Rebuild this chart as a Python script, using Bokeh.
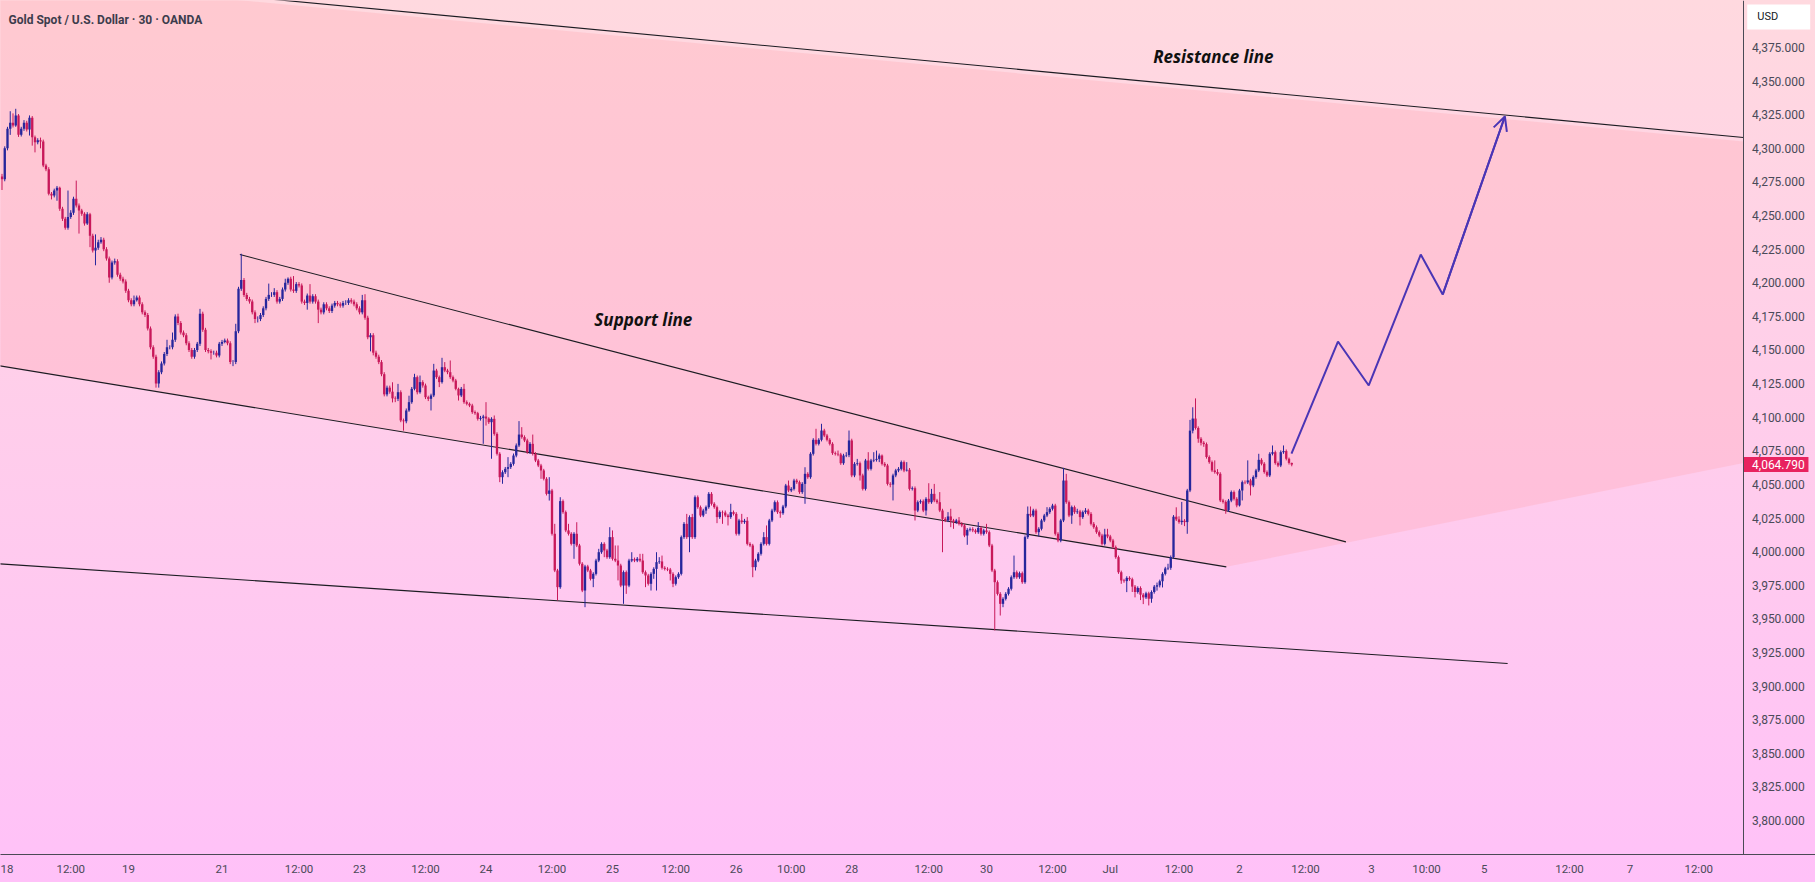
import numpy as np
from bokeh.plotting import figure
from bokeh.core.properties import value
from bokeh.models import (ColumnDataSource, FixedTicker, Label, Arrow, OpenHead,
                          Range1d, Span)
from bokeh.embed import file_html
from bokeh.resources import INLINE

# ---------------------------------------------------------------------------
# XAUUSD, 30-minute bars (bar index on x). Each bar opens at the prior close.
# ---------------------------------------------------------------------------
first_open = 4279.0

closes = [
    4277, 4300, 4314.5, 4319, 4317, 4324.4, 4310.1, 4314.5, 4319, 4314,
    4322.7, 4308.3, 4304.6, 4306, 4305, 4287.2, 4284.5, 4266.2, 4265, 4268.6,
    4270.6, 4255, 4247.6, 4241, 4249, 4252, 4262.5, 4257.5, 4253.8, 4251.3,
    4244, 4251, 4235, 4224, 4226, 4230.2, 4232, 4225, 4218, 4204,
    4215, 4216, 4206, 4203, 4201, 4194, 4187, 4184, 4187, 4189,
    4184, 4178, 4176, 4166, 4152, 4145, 4125, 4133.5, 4140, 4147,
    4152, 4152, 4157.6, 4175, 4170, 4163, 4161, 4155, 4150, 4145,
    4150, 4154.6, 4177, 4165, 4150, 4149, 4148, 4148, 4146, 4154.6,
    4156, 4157, 4155, 4141, 4141, 4164, 4195.5, 4202, 4191, 4188,
    4186, 4178, 4173, 4173, 4176, 4181, 4188, 4191, 4191, 4193,
    4186, 4188, 4195, 4200, 4203, 4195, 4194, 4199, 4198, 4186,
    4185, 4190.5, 4186, 4190, 4186, 4180, 4178, 4184, 4181, 4179,
    4183, 4185, 4184, 4183, 4185, 4185, 4187, 4186, 4184, 4181,
    4178, 4187, 4174, 4159.5, 4161, 4148, 4145, 4141, 4132, 4117,
    4122, 4119, 4114, 4113.7, 4118.6, 4097.6, 4097, 4105, 4111.2, 4121.1,
    4129.8, 4118.6, 4126.1, 4123.6, 4114.9, 4113.7, 4116.2, 4134.7, 4129.8, 4126.1,
    4137.2, 4134.7, 4133.5, 4129.8, 4127.3, 4121.1, 4116.2, 4121.1, 4111.2, 4110,
    4108.7, 4103.8, 4103, 4098.8, 4099.5, 4100.5, 4099, 4096.3, 4098.8, 4087.6,
    4072.8, 4055.4, 4059.1, 4061.6, 4062.9, 4065.3, 4071.5, 4079, 4087.1, 4085.2,
    4082.7, 4074, 4080.2, 4072.8, 4067.8, 4064.1, 4060.4, 4054.2, 4043, 4045.5,
    4013.3, 3986, 3973.6, 4037.6, 4029.4, 4015.8, 4013.3, 4005.8, 4013.3, 4004.6,
    3991, 3971.1, 3989, 3986, 3979.8, 3983.5, 3993.4, 3999.6, 4005.8, 4000.9,
    3995.9, 4010.8, 3994.7, 3993.4, 3989.7, 3974.8, 3984.8, 3974.8, 3993.4, 3994.4,
    3993.4, 3994.7, 3993.4, 3984.7, 3982.3, 3976.1, 3983.5, 3987.2, 3992.2, 3992.7,
    3988, 3987.2, 3986.7, 3983.5, 3976.1, 3981, 3983.5, 4010.8, 4020.7, 4010.8,
    4025.7, 4010.8, 4040.5, 4033.1, 4026.9, 4030.6, 4033.1, 4043, 4035.6, 4033.1,
    4025.7, 4029.4, 4029.1, 4026.9, 4025.7, 4029.4, 4028.1, 4013.3, 4023.2, 4022,
    4023, 4005.8, 4004.6, 3988.5, 3993.4, 3998.4, 4005.8, 4010.8, 4005.8, 4023.2,
    4030.6, 4036.8, 4029.4, 4028.6, 4033.6, 4049.2, 4045.5, 4046.7, 4052.9, 4051.7,
    4044.3, 4050.4, 4057.9, 4055.4, 4072.8, 4083.2, 4080.2, 4083.2, 4090.1, 4086.4,
    4083.2, 4080.2, 4073.3, 4072.8, 4072.3, 4065.8, 4071.5, 4071.8, 4082.7, 4056.7,
    4065.3, 4065.8, 4056.7, 4046.7, 4067.8, 4061.6, 4067.8, 4068.3, 4069, 4071.5,
    4065.3, 4064.1, 4050.4, 4049.9, 4056.7, 4060.4, 4061.6, 4066.6, 4060.4, 4060.9,
    4046.7, 4047.2, 4030.6, 4036.8, 4037.5, 4030.6, 4039.3, 4036.8, 4043, 4038.1,
    4036.8, 4030.6, 4024.4, 4023.2, 4026.2, 4023.2, 4022, 4023.2, 4020.7, 4019.5,
    4012, 4016.2, 4016.7, 4015.8, 4014.5, 4017.7, 4013.3, 4015.8, 4014.5, 4004.6,
    3986, 3977.3, 3968.6, 3961.2, 3964.9, 3968.6, 3972.4, 3981, 3984.7, 3981,
    3984, 3977.3, 4010.8, 4028.1, 4026.9, 4030.6, 4014.5, 4017, 4023.2, 4026.9,
    4029.4, 4031.9, 4034.3, 4013.3, 4008.3, 4023.2, 4052.9, 4036.8, 4026.9, 4033.1,
    4029.4, 4029.9, 4025.7, 4029.4, 4030.6, 4028.1, 4020.7, 4018.2, 4014.5, 4012,
    4005.8, 4012.8, 4011.3, 4008.3, 4003.4, 3995.9, 3984.7, 3978.6, 3978.1, 3980.5,
    3979.5, 3974, 3970, 3973, 3968, 3966, 3969, 3965, 3970, 3974,
    3975, 3978, 3983.5, 3987.5, 3988, 3996, 4026, 4024, 4022, 4023,
    4022, 4045.5, 4090, 4099, 4092, 4084, 4081, 4080, 4070.4, 4066.6,
    4060.4, 4059.2, 4057.9, 4038.1, 4037, 4030.7, 4038, 4044.3, 4039.3, 4034.4,
    4045.5, 4051.7, 4051.5, 4053, 4049.3, 4055.5, 4060.4, 4068.3, 4065.4, 4059.2,
    4056.7, 4072.8, 4074, 4065.9, 4064.1, 4074, 4074.8, 4069.1, 4066, 4064.79,
]

highs = [
    4281, 4301.5, 4316, 4327.6, 4326, 4329.4, 4325.5, 4316, 4321, 4320.5,
    4324.5, 4324, 4309.5, 4307.5, 4308, 4306.5, 4288.5, 4286, 4267.5, 4270,
    4272, 4271.5, 4256.5, 4249, 4268.6, 4254, 4264, 4276, 4259, 4255,
    4252.5, 4252.5, 4252, 4236.5, 4236, 4232, 4234, 4233.5, 4226.5, 4219.5,
    4216.5, 4218, 4217.5, 4207.5, 4204.5, 4202.5, 4195.5, 4188.5, 4190.5, 4190.5,
    4190.5, 4185.5, 4179.5, 4177.5, 4167.5, 4153.5, 4146.5, 4135, 4141.5, 4148.5,
    4157.6, 4153.5, 4163, 4176.5, 4177, 4171.5, 4164.5, 4162.5, 4156.5, 4151.5,
    4151.5, 4156, 4180.6, 4178.5, 4166.5, 4151.5, 4150.5, 4149.5, 4149.5, 4156,
    4157.5, 4158.5, 4158.5, 4156.5, 4142.5, 4169.5, 4197, 4221.6, 4203.5, 4192.5,
    4189.5, 4187.5, 4179.5, 4175, 4177.5, 4182.5, 4189.5, 4199.4, 4193, 4196,
    4194.5, 4189.5, 4196.5, 4203, 4204, 4204.5, 4205, 4200.5, 4200.5, 4199.5,
    4187.5, 4192, 4199, 4191.5, 4191.5, 4187.5, 4181.5, 4185.5, 4185.5, 4182.5,
    4184.5, 4186.5, 4186.5, 4185.5, 4186.5, 4187, 4188.5, 4188.5, 4187.5, 4185.5,
    4182.5, 4191, 4191.5, 4175.5, 4162.5, 4162.5, 4149.5, 4146.5, 4142.5, 4133.5,
    4123.5, 4123.5, 4126, 4115.5, 4124.8, 4120, 4099, 4106.5, 4116, 4122.5,
    4132.3, 4131, 4131, 4127.5, 4125, 4116, 4117.5, 4139.7, 4136, 4131,
    4144.2, 4141, 4136, 4142.2, 4131, 4128.5, 4122, 4122.5, 4124.8, 4112.5,
    4111, 4110, 4105, 4104, 4101, 4101.8, 4111.2, 4100, 4100, 4101.3,
    4088.8, 4074, 4060.5, 4063, 4070.3, 4066.6, 4073, 4080.5, 4097.1, 4092.6,
    4086.5, 4084, 4081.5, 4087.1, 4074, 4069, 4065.3, 4061.6, 4055.4, 4055.4,
    4046.7, 4020.7, 3987.2, 4040.5, 4038.8, 4030.6, 4020.7, 4014.5, 4014.5, 4021.9,
    4005.8, 3992.2, 3990.2, 3990.2, 3987.2, 3984.7, 3994.7, 4002.1, 4007, 4007,
    4002.1, 4018.2, 4015.8, 4004.6, 4004.6, 3991, 3986, 3986, 3994.7, 3999.6,
    3995.6, 3996, 3998.4, 3998.4, 3986, 3983.5, 3984.7, 3988.4, 3999.6, 3995.9,
    3997.1, 3989.2, 3988.4, 3987.9, 3984.7, 3982.3, 3984.7, 4012, 4022, 4028.1,
    4027, 4028.1, 4041.8, 4041.8, 4034.3, 4031.9, 4034.3, 4044.3, 4044.3, 4036.8,
    4034.3, 4030.6, 4030.6, 4030.6, 4028.1, 4035.6, 4030.6, 4029.4, 4024.4, 4028.1,
    4024.4, 4025.7, 4007, 4005.8, 3994.7, 3999.6, 4007, 4014.5, 4019.5, 4024.4,
    4031.9, 4038.1, 4038.1, 4030.6, 4034.8, 4050.4, 4052.9, 4048, 4054.2, 4054.2,
    4052.9, 4051.7, 4062.8, 4059.1, 4074, 4084.4, 4091.4, 4084.4, 4095.1, 4091.4,
    4087.6, 4084.4, 4081.4, 4074.5, 4075.2, 4073.5, 4072.8, 4074, 4090.1, 4084,
    4066.6, 4069, 4067, 4058, 4069, 4074, 4069, 4074, 4075.2, 4073,
    4072.3, 4066.6, 4065.3, 4051.7, 4058, 4061.6, 4062.9, 4067.8, 4067.8, 4066.6,
    4062.2, 4048.5, 4048.5, 4038.1, 4038.8, 4038.8, 4040.5, 4050.9, 4046.7, 4050.4,
    4039.3, 4044.3, 4031.9, 4025.7, 4029.4, 4031.9, 4024.4, 4024.4, 4025.7, 4022,
    4020.7, 4017.5, 4018, 4018.2, 4017, 4022, 4019, 4017, 4020.7, 4015.8,
    4005.8, 3987.2, 3978.6, 3969.9, 3966.1, 3969.9, 3973.6, 3982.3, 3997.1, 3986,
    3985.2, 3985.2, 4012, 4033.6, 4033.6, 4031.9, 4031.9, 4018.2, 4024.4, 4028.1,
    4033.1, 4033.1, 4035.6, 4035.6, 4014.5, 4024.4, 4062.3, 4057.9, 4038.1, 4034.3,
    4034.3, 4031.9, 4031.1, 4030.6, 4032.4, 4031.9, 4029.4, 4022, 4019.5, 4015.8,
    4013.3, 4017, 4017, 4012.5, 4009.5, 4004.6, 3997.1, 3985.9, 3979.8, 3981.7,
    3981.7, 3980.7, 3975.2, 3974.2, 3974.2, 3969.2, 3970.2, 3970.2, 3971.2, 3975.2,
    3977, 3979.2, 3984.7, 3988.7, 3991, 3997.2, 4027.2, 4033, 4026.3, 4037,
    4024.2, 4046.7, 4098, 4107.4, 4114, 4093.2, 4085.2, 4082.2, 4081.2, 4071.6,
    4067.8, 4067.9, 4061.4, 4059.1, 4039.3, 4038.2, 4039.2, 4045.5, 4045.5, 4040.5,
    4046.7, 4052.9, 4053, 4067.9, 4054.2, 4056.7, 4061.6, 4072.8, 4069.5, 4066.6,
    4060.4, 4074, 4079, 4075.2, 4067.1, 4075.3, 4079, 4076, 4070, 4066.2,
]

lows = [
    4269, 4275.5, 4298.5, 4310, 4315.5, 4316, 4308.5, 4308.8, 4313, 4312.5,
    4309.5, 4302, 4297, 4303, 4300, 4286, 4283, 4265, 4262, 4263.5,
    4261, 4253.5, 4246, 4239.5, 4239.5, 4247.5, 4250.5, 4256, 4236.6, 4249.8,
    4242.5, 4243, 4226.5, 4222.5, 4213, 4224.5, 4229, 4223.5, 4216.5, 4200,
    4202.5, 4213.5, 4204.5, 4201.5, 4199.5, 4192.5, 4185.5, 4182.5, 4182.5, 4186,
    4182.5, 4176.5, 4174.5, 4164.5, 4150.5, 4143.5, 4122, 4122, 4132, 4138.5,
    4145.5, 4150.5, 4150.5, 4156, 4168.5, 4161.5, 4159.5, 4153.5, 4148.5, 4143.5,
    4143.5, 4148.5, 4153, 4163.5, 4148.5, 4147.5, 4143, 4146.5, 4144.5, 4144.5,
    4153, 4155, 4153.5, 4139.5, 4138, 4139.5, 4162.5, 4194, 4189.5, 4186.5,
    4184.5, 4176.5, 4170, 4170.5, 4171.5, 4174.5, 4179.5, 4186.5, 4189.5, 4189.5,
    4184.5, 4184.5, 4186.5, 4193.5, 4198.5, 4193.5, 4192.5, 4192.5, 4196.5, 4184.5,
    4183.5, 4180, 4184.5, 4184.5, 4184.5, 4170, 4176.5, 4176.5, 4179.5, 4177.5,
    4177.5, 4181.5, 4182.5, 4181.5, 4181.5, 4183.5, 4183.5, 4184.5, 4182.5, 4179.5,
    4176.5, 4176.5, 4172.5, 4158, 4149, 4146, 4143.5, 4139.5, 4130.5, 4115.5,
    4115.5, 4117.5, 4111, 4111.2, 4112, 4096.3, 4090, 4095.5, 4104, 4110,
    4120, 4117, 4117.5, 4122, 4113.5, 4112, 4105, 4115, 4128.5, 4122.4,
    4125, 4133.5, 4132, 4128.5, 4126, 4120, 4112.4, 4115, 4110, 4108.8,
    4107.5, 4102.5, 4101.8, 4097.5, 4097.5, 4080.2, 4093.8, 4095, 4069.1, 4086.3,
    4071.5, 4051.7, 4050.5, 4057.8, 4055.4, 4061.5, 4064, 4070.2, 4077.8, 4084,
    4081.5, 4072.8, 4072.8, 4071.5, 4066.6, 4062.9, 4054.2, 4053, 4041.8, 4038,
    4012, 3984.8, 3963.7, 3972.4, 4028.2, 4014.5, 4012, 4004.6, 3994.7, 4003.4,
    3989.7, 3969.9, 3958.7, 3984.8, 3978.6, 3973.6, 3982.3, 3992.2, 3998.4, 3995.9,
    3994.7, 3994.7, 3993.4, 3992.2, 3978.6, 3973.6, 3961.2, 3968.6, 3973.6, 3992.2,
    3992.2, 3992.2, 3992.2, 3983.5, 3973.6, 3974.8, 3971.1, 3979.8, 3971.1, 3990.9,
    3986.7, 3986, 3985.5, 3978.6, 3973.6, 3974.8, 3979.8, 3982.3, 4009.5, 4009.5,
    3999.6, 4009.5, 4009.5, 4031.9, 4025.7, 4025.7, 4028.1, 4031.9, 4034.3, 4031.9,
    4021.2, 4024.4, 4020.7, 4025.7, 4019.5, 4024.4, 4026.9, 4012, 4012, 4020.7,
    4020.7, 4004.6, 4003.4, 3981, 3986, 3992.2, 3997.1, 4004.6, 4004.6, 4004.6,
    4022, 4029.4, 4028.1, 4025.2, 4027.4, 4032.4, 4044.3, 4044.3, 4045.5, 4050.4,
    4043, 4043, 4035.6, 4054.2, 4054.2, 4071.5, 4079, 4079, 4082, 4085.2,
    4082, 4079, 4072, 4071.5, 4071, 4064.6, 4064.6, 4070.3, 4070.3, 4055.4,
    4055.4, 4064, 4052.9, 4045.5, 4045.5, 4060.4, 4060.4, 4066.6, 4067, 4066.6,
    4064.1, 4062.9, 4049.2, 4047.9, 4038.1, 4055.4, 4059.1, 4060.4, 4059.1, 4059.6,
    4045.5, 4045.5, 4023.2, 4029.4, 4035.6, 4029.4, 4026.9, 4035.6, 4035.6, 4036.8,
    4035.6, 4029.4, 3999.6, 4022, 4022, 4018.2, 4017, 4020.7, 4019.5, 4018.2,
    4010.8, 4005.1, 4015, 4014.5, 4013.3, 4013.3, 4012, 4012, 4013.3, 4003.4,
    3984.8, 3941.4, 3967.4, 3952.5, 3958.7, 3963.7, 3967.4, 3971.1, 3979.8, 3979.8,
    3979.8, 3976.1, 3976.1, 4009.5, 4025.7, 4025.7, 4013.3, 4011.3, 4015.8, 4022,
    4025.7, 4028.1, 4030.6, 4012, 4007, 4007, 4022, 4035.6, 4025.7, 4020.7,
    4028.1, 4028.1, 4019.5, 4024.4, 4028.1, 4026.9, 4019.5, 4017, 4013.3, 4010.8,
    4004.6, 4004.6, 4010, 4007, 4002.1, 3994.7, 3983.5, 3976.1, 3976.9, 3969.9,
    3978.3, 3970, 3966, 3968.8, 3964, 3961, 3964.8, 3960, 3962, 3968.8,
    3971, 3973.4, 3973.4, 3982.3, 3986.3, 3986.5, 3994.8, 4022.8, 4020.8, 4020,
    4019, 4013.3, 4044.3, 4088, 4090.8, 4081, 4079, 4078, 4069.2, 4065.4,
    4059.2, 4058, 4056.7, 4036.9, 4035.8, 4028.2, 4029.5, 4036.8, 4038.1, 4033,
    4033.6, 4038.1, 4050.2, 4050.3, 4041.8, 4048, 4054.3, 4059.2, 4064.2, 4058,
    4055.5, 4055.5, 4071.6, 4064.7, 4062.9, 4062.9, 4072.8, 4067.9, 4064.8, 4063.5,
]

last_price = 4064.79

# Axis ticks
price_ticks = list(range(3800, 4376, 25))
time_tick_pos = [1, 25, 46, 80, 108, 130, 154, 176, 200, 222, 245, 267, 287, 309,
                 337, 358, 382, 403, 428, 450, 474, 498, 518, 539, 570, 592, 617]
time_tick_text = ["18", "12:00", "19", "21", "12:00", "23", "12:00", "24", "12:00",
                  "25", "12:00", "26", "10:00", "28", "12:00", "30", "12:00", "Jul",
                  "12:00", "2", "12:00", "3", "10:00", "5", "12:00", "7", "12:00"]

# Chart area ends here (bar units); the price scale sits to its right
chart_right = 633.27

# Hand-drawn trend lines: (bar index, price) end points
resistance_x, resistance_y = [-5.0, chart_right], [4430.7, 4308.1]
channel_top_x, channel_top_y = [86.5, 488.7], [4221.0, 4007.3]
channel_mid_x, channel_mid_y = [-5.0, 445.2], [4139.6, 3988.7]
channel_low_x, channel_low_y = [-5.0, 547.5], [3991.5, 3916.8]
zone_edge_x, zone_edge_y = [445.2, chart_right], [3988.7, 4065.9]

# Projected path
proj_x = [468.9, 485.8, 497.0, 515.9, 523.9, 546.5]
proj_y = [4073.0, 4156.3, 4123.6, 4221.0, 4191.3, 4323.7]

# ---------------------------------------------------------------------------
UP_COLOR = "#26269C"
DOWN_COLOR = "#C8185A"
LINE_COLOR = "#1C1C22"
PATH_COLOR = "#4A35B5"
AXIS_TEXT = "#4A4A58"
AXIS_LINE = "#4A4A55"

opens = [first_open] + closes[:-1]
n = len(closes)
bars = ColumnDataSource(dict(
    x=list(range(n)),
    high=highs,
    low=lows,
    top=[max(o, c) for o, c in zip(opens, closes)],
    bottom=[min(o, c) for o, c in zip(opens, closes)],
    color=[UP_COLOR if c >= o else DOWN_COLOR for o, c in zip(opens, closes)],
))

# 2.75 px per bar; the frame spans the full width, price scale drawn at the right
p = figure(width=1815, height=882, output_backend="svg", toolbar_location=None,
           x_range=Range1d(-0.545, 659.45), y_range=Range1d(3774.75, 4409.96),
           y_axis_location=None,
           min_border_left=0, min_border_top=0, min_border_right=0, min_border_bottom=28,
           background_fill_color=None, border_fill_color=None, outline_line_color=None,
           styles={"background": "linear-gradient(180deg, #FFD9DF 0%, #FFC1F8 100%)"})

p.xgrid.visible = False
p.ygrid.visible = False

# Shaded zone under the resistance line, above the channel / wedge edge
gap = 3.0
zone_x = [resistance_x[0], resistance_x[1], zone_edge_x[1], zone_edge_x[0], channel_mid_x[0]]
zone_y = [resistance_y[0] - gap, resistance_y[1] - gap, zone_edge_y[1], zone_edge_y[0], channel_mid_y[0]]
p.patch(zone_x, zone_y, fill_color="#FFA5AF", fill_alpha=0.30, line_color=None)

# Trend lines
for lx, ly in [(resistance_x, resistance_y), (channel_top_x, channel_top_y),
               (channel_mid_x, channel_mid_y), (channel_low_x, channel_low_y)]:
    p.line(lx, ly, line_color=LINE_COLOR, line_width=1.1)

# Candles
p.segment(x0="x", y0="low", x1="x", y1="high", source=bars, line_color="color", line_width=1)
p.vbar(x="x", width=0.85, top="top", bottom="bottom", source=bars,
       fill_color="color", line_color=None)

# Projection with arrow head
p.line(proj_x, proj_y, line_color=PATH_COLOR, line_width=2)
p.add_layout(Arrow(end=OpenHead(size=14, line_color=PATH_COLOR, line_width=2),
                   x_start=proj_x[-2], y_start=proj_y[-2],
                   x_end=proj_x[-1], y_end=proj_y[-1],
                   line_color=PATH_COLOR, line_width=2))

# Time axis
p.xaxis.ticker = FixedTicker(ticks=time_tick_pos)
p.xaxis.major_label_overrides = {pos: txt for pos, txt in zip(time_tick_pos, time_tick_text)}
p.xaxis.major_tick_out = 0
p.xaxis.major_tick_in = 0
p.xaxis.minor_tick_out = 0
p.xaxis.minor_tick_in = 0
p.xaxis.axis_line_color = AXIS_LINE
p.xaxis.major_label_text_font = "Roboto"
p.xaxis.major_label_text_color = AXIS_TEXT
p.xaxis.major_label_text_font_size = "11.5px"
p.xaxis.major_label_standoff = 7

# Price scale: separator line and tick labels
p.add_layout(Span(location=chart_right, dimension="height", line_color=AXIS_LINE, line_width=1))
scale_x = chart_right + 3.1
p.text(x=[scale_x] * len(price_ticks), y=price_ticks,
       text=[f"{v:,.3f}" for v in price_ticks],
       text_font=value("Roboto"), text_font_size="12px", text_color=AXIS_TEXT,
       text_align="left", text_baseline="middle")

# Last price tag (box in screen pixels, centred on the scale)
scale_mid = chart_right + 11.8
p.rect(x=[scale_mid], y=[last_price], width=65, height=15,
       width_units="screen", height_units="screen",
       fill_color="#E8235F", line_color=None)
p.text(x=[scale_x], y=[last_price], text=[f"{last_price:,.3f}"],
       text_font=value("Roboto"), text_font_size="12px", text_color="white",
       text_align="left", text_baseline="middle")

# Currency box at the top of the scale
usd_y = 4397.7
p.rect(x=[scale_mid + 1.0], y=[usd_y], width=63, height=25,
       width_units="screen", height_units="screen",
       fill_color="white", line_color=None)
p.text(x=[scale_x + 1.9], y=[usd_y], text=["USD"],
       text_font=value("Roboto"), text_font_size="11px", text_color="#131722",
       text_align="left", text_baseline="middle")

# Texts
p.add_layout(Label(x=2.4, y=4395.5, text="Gold Spot / U.S. Dollar · 30 · OANDA",
                   text_font="Roboto", text_font_style="bold", text_font_size="12px",
                   text_color="#3C3C4C", text_baseline="alphabetic"))
p.add_layout(Label(x=418.6, y=4368.0, text="Resistance line", text_font="Open Sans",
                   text_font_style="bold italic", text_font_size="17px",
                   text_color="#111111", text_baseline="alphabetic"))
p.add_layout(Label(x=215.4, y=4173.0, text="Support line", text_font="Open Sans",
                   text_font_style="bold italic", text_font_size="17px",
                   text_color="#111111", text_baseline="alphabetic"))

open("out.html", "w").write(file_html(p, INLINE))
